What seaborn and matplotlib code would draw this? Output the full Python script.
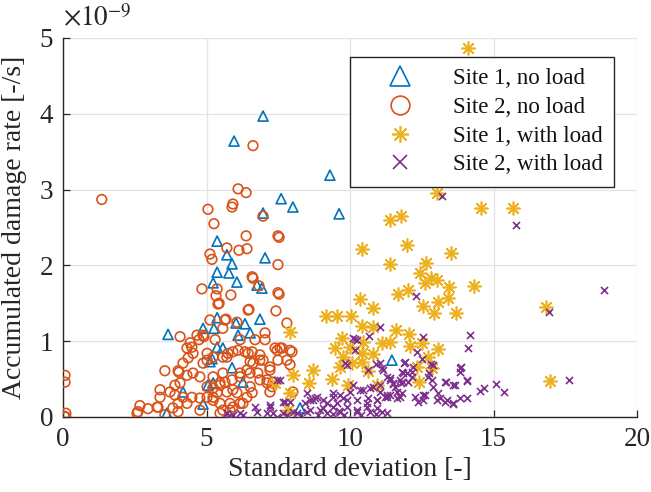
import numpy as np
import pandas as pd
import matplotlib
matplotlib.use("Agg")
import matplotlib.pyplot as plt
import seaborn as sns
from matplotlib.lines import Line2D

# ---------------- data (y in units of 1e-9 1/s) ----------------
series_labels = ["Site 1, no load", "Site 2, no load", "Site 1, with load", "Site 2, with load"]
series_colors = ["#0072BD", "#D95319", "#EDB120", "#7E2F8E"]

s1_noload_x = [6.97, 5.96, 9.30, 7.60, 8.01, 9.62, 6.97, 5.37, 5.71, 5.89, 5.37, 5.78, 6.06, 5.23,
               7.04, 6.76, 6.93, 3.66, 4.88, 5.26, 5.37, 6.03, 6.34, 6.10, 6.52, 6.86, 5.37, 5.57,
               5.19, 5.12, 5.89, 6.27, 5.05, 5.23, 4.18, 3.62, 8.26, 11.46, 4.88]
s1_noload_y = [3.97, 3.64, 3.19, 2.88, 2.77, 2.68, 2.69, 2.32, 2.14, 2.02, 1.91, 1.90, 1.78, 1.77,
               2.10, 1.74, 1.70, 1.09, 1.17, 1.17, 1.31, 1.24, 1.23, 1.08, 1.11, 1.29, 0.92, 0.91,
               0.77, 0.73, 0.65, 0.46, 0.42, 0.45, 0.33, 0.05, 0.12, 0.75, 0.17]

s2_noload_x = [1.35, 0.07, 0.07, 0.10, 0.10, 0.04, 6.62, 6.10, 6.38, 5.92, 5.89, 5.05, 6.97, 5.26,
               6.38, 7.53, 5.71, 6.13, 6.41, 5.12, 5.19, 7.49, 6.62, 6.83, 4.84, 5.37, 5.33, 5.85,
               7.53, 5.44, 6.48, 7.42, 5.68, 7.80, 4.08, 4.67, 4.88, 4.43, 4.32, 4.53, 4.36, 4.18,
               3.55, 4.01, 4.88, 6.10, 6.45, 6.86, 6.52, 7.04, 7.04, 7.56, 7.98, 7.21, 7.39, 7.11,
               7.28, 6.27, 5.92, 5.57, 3.38, 3.38, 3.31, 3.83, 3.55, 4.49, 5.02, 5.23, 5.57, 5.75,
               5.92, 6.34, 6.59, 7.63, 7.91, 7.49, 6.86, 6.62, 6.41, 6.17, 5.89, 5.64, 5.47, 5.23,
               5.02, 4.77, 4.53, 4.32, 4.04, 4.08, 3.90, 3.73, 3.90, 4.18, 4.49, 4.77, 5.02, 5.23,
               5.37, 5.71, 5.92, 6.59, 7.21, 7.32, 8.01, 7.80, 3.28, 2.96, 2.68, 2.61, 2.58, 4.01,
               4.32, 4.01, 4.77, 7.49, 6.45, 6.59, 7.49, 5.40, 6.06, 5.64, 5.57, 5.12, 4.91, 4.74,
               5.30, 6.17, 6.69,
               5.02, 5.71, 6.97, 7.21, 7.46, 7.91, 7.11, 6.86, 6.52, 6.41, 6.06, 5.47, 5.82, 6.17,
               5.47, 5.23, 5.23, 5.57, 5.82, 5.47, 6.79, 6.52, 6.17]
s2_noload_y = [2.87, 0.55, 0.46, 0.05, 0.00, 0.01, 3.58, 3.01, 2.96, 2.81, 2.77, 2.74, 2.65, 2.55,
               2.39, 2.37, 2.23, 2.20, 2.22, 2.15, 2.08, 2.01, 1.83, 1.73, 1.69, 1.69, 1.60, 1.61,
               1.62, 1.50, 1.42, 1.40, 1.29, 1.24, 1.06, 1.08, 1.08, 0.98, 0.91, 0.84, 0.78, 0.71,
               0.61, 0.61, 0.71, 0.88, 0.84, 0.82, 0.73, 1.11, 1.02, 0.91, 0.86, 0.66, 0.91, 0.49,
               0.40, 0.18, 0.13, 0.09, 0.36, 0.26, 0.13, 0.12, 0.03, 0.92, 0.84, 0.79, 0.79, 0.84,
               0.86, 0.86, 0.86, 0.91, 0.69, 0.75, 0.75, 0.71, 0.62, 0.58, 0.49, 0.46, 0.42, 0.38,
               0.40, 0.53, 0.58, 0.55, 0.59, 0.45, 0.42, 0.33, 0.29, 0.26, 0.26, 0.25, 0.26, 0.22,
               0.32, 0.33, 0.36, 0.32, 0.33, 0.46, 0.33, 0.75, 0.13, 0.11, 0.15, 0.07, 0.05, 0.18,
               0.18, 0.07, 0.09, 1.64, 1.41, 1.85, 2.39, 1.49, 1.25, 1.28, 1.17, 1.28, 1.06, 1.02,
               1.02, 1.02, 1.02,
               0.75, 0.79, 0.75, 0.62, 0.88, 0.88, 0.45, 0.49, 0.40, 0.26, 0.32, 0.18, 0.18, 0.18,
               0.45, 0.26, 0.53, 0.58, 0.09, 0.05, 0.58, 0.58, 0.53]

s1_load_x = [14.11, 13.03, 14.56, 15.68, 11.78, 11.39, 10.42, 11.99, 13.52, 11.39, 12.65, 12.44,
             12.82, 13.03, 12.61, 13.45, 14.32, 12.02, 11.67, 10.35, 10.80, 13.41, 13.07, 12.54,
             12.93, 13.69, 16.83, 9.55, 10.03, 9.16, 10.42, 10.80, 11.60, 12.06, 9.72, 10.45,
             11.11, 11.39, 12.09, 12.51, 13.07, 9.48, 10.42, 10.80, 9.76, 12.72, 10.07, 9.65,
             10.63, 12.33, 12.86, 9.37, 9.93, 10.94, 12.40, 16.97, 10.00, 10.42, 8.71, 8.57,
             8.01, 7.91, 7.84, 7.91, 7.40]
s1_load_y = [4.87, 2.96, 2.76, 2.76, 2.65, 2.60, 2.22, 2.27, 2.16, 2.02, 2.03, 1.90,
             1.83, 1.81, 1.77, 1.72, 1.73, 1.68, 1.62, 1.56, 1.44, 1.57, 1.52, 1.46,
             1.37, 1.37, 1.45, 1.33, 1.33, 1.33, 1.20, 1.19, 1.15, 1.09, 1.04, 0.99,
             0.98, 0.99, 0.94, 0.98, 0.90, 0.91, 0.84, 0.83, 0.79, 0.79, 0.71, 0.66,
             0.61, 0.66, 0.65, 0.50, 0.42, 0.42, 0.46, 0.47, 0.92, 0.73, 0.62, 0.45,
             0.55, 1.12, 0.09, 0.32, 0.45]

s2_load_x = [13.20, 15.78, 18.85, 16.93, 17.63, 12.30, 11.04, 12.54, 14.18, 14.11, 10.17, 10.66,
             12.33, 12.51, 11.88, 10.91, 11.15, 12.82, 12.75, 13.87, 13.83, 11.85, 12.16, 11.39,
             12.02, 11.78, 11.50, 13.34, 13.66, 14.08, 15.09, 15.37, 14.67, 14.53, 12.89, 13.07,
             12.61, 12.37, 13.03, 13.31, 13.59, 13.83, 14.08, 11.81, 11.64, 11.39, 11.22, 11.05,
             11.05, 10.24, 10.17, 11.92, 11.81, 12.16, 12.72, 11.39, 11.85, 12.86, 13.31, 13.59,
             14.08, 13.83, 12.89, 11.57, 11.64, 11.29, 11.05, 10.70, 10.35, 10.00, 9.65, 9.41,
             9.06, 8.85, 8.61, 8.43, 9.90, 10.24, 10.63, 10.94, 9.41, 9.90, 10.24, 10.59, 10.94,
             8.95, 8.61, 7.91, 7.67, 9.20, 12.54, 13.38, 13.59, 12.26, 12.54, 13.14, 7.56, 6.69,
             7.21, 6.17, 5.71, 8.50, 8.71, 9.41, 9.76, 10.10, 9.83, 10.10, 9.06, 7.32, 8.15, 7.11,
             7.80, 8.30, 8.90, 9.40, 9.80, 10.40, 10.90, 11.30, 10.70, 9.60, 8.50,
             7.46, 7.73, 7.21, 6.76, 6.27, 5.92, 5.75, 8.78, 9.55, 10.45, 10.80, 11.29, 11.50,
             11.74, 11.99, 12.20, 10.59, 10.94, 11.29, 11.74, 11.11, 10.24, 9.65, 9.20, 8.01,
             7.67, 7.46, 9.90, 10.63, 11.11]
s2_load_y = [2.92, 2.53, 1.68, 1.39, 0.49, 1.60, 1.19, 1.06, 1.08, 0.91, 1.03, 1.07,
             0.86, 0.77, 0.71, 0.70, 0.62, 0.70, 0.58, 0.66, 0.59, 0.58, 0.53, 0.51,
             0.46, 0.45, 0.44, 0.46, 0.42, 0.47, 0.44, 0.33, 0.38, 0.34, 0.40, 0.32,
             0.29, 0.20, 0.22, 0.20, 0.17, 0.25, 0.25, 0.32, 0.25, 0.29, 0.26, 0.33,
             0.71, 1.02, 0.88, 0.73, 0.59, 0.59, 0.53, 0.49, 0.46, 0.49, 0.46, 0.42,
             0.49, 0.65, 0.69, 0.40, 0.33, 0.29, 0.42, 0.38, 0.36, 0.33, 0.29, 0.26,
             0.22, 0.26, 0.22, 0.18, 0.22, 0.22, 0.25, 0.22, 0.13, 0.13, 0.09, 0.13, 0.12,
             0.09, 0.09, 0.20, 0.20, 0.18, 0.22, 0.22, 0.18, 0.26, 0.29, 0.25, 0.49, 0.13,
             0.13, 0.05, 0.05, 0.32, 0.22, 0.32, 0.25, 0.42, 0.71, 1.04, 0.12, 0.05, 0.05, 0.05,
             0.02, 0.03, 0.02, 0.04, 0.03, 0.03, 0.04, 0.05, 0.07, 0.08, 0.06,
             0.49, 0.20, 0.16, 0.07, 0.03, 0.03, 0.00, 0.25, 0.18, 0.36, 0.40, 0.53, 0.45,
             0.49, 0.58, 0.66, 0.18, 0.22, 0.26, 0.26, 0.07, 0.07, 0.07, 0.05, 0.07,
             0.05, 0.00, 0.69, 0.62, 0.65]

x_ticks = [0, 5, 10, 15, 20]
y_ticks = [0, 1, 2, 3, 4, 5]
x_label = "Standard deviation [-]"
y_label = "Accumulated damage rate [-/s]"
exponent_label = r"$\times 10^{-9}$"

# ---------------- style ----------------
sns.set_theme(style="white")
plt.rcParams['font.family'] = ['Liberation Serif', 'DejaVu Serif']
plt.rcParams['mathtext.fontset'] = 'stix'

fig = plt.figure(figsize=(6.51, 4.92), dpi=100)
ax = fig.add_axes([63 / 651, 75 / 492, 574 / 651, 379 / 492])

asterisk = (8, 2, 0)
specs = [
    (s1_noload_x, s1_noload_y, "^", 52, True, 1.2),
    (s2_noload_x, s2_noload_y, "o", 48, True, 1.2),
    (s1_load_x, s1_load_y, asterisk, 85, False, 1.2),
    (s2_load_x, s2_load_y, "x", 26, False, 1.2),
]
for (xs, ys, mk, sz, hollow, lw), col in zip(specs, series_colors):
    df = pd.DataFrame({"x": xs, "y": ys})
    if hollow:
        sns.scatterplot(data=df, x="x", y="y", marker=mk, s=sz, color=col,
                        facecolor="none", edgecolor=col, linewidth=lw, ax=ax,
                        legend=False, zorder=3)
    else:
        sns.scatterplot(data=df, x="x", y="y", marker=mk, s=sz, color=col,
                        linewidth=lw, ax=ax, legend=False, zorder=3)

ax.set_xlim(0, 20)
ax.set_ylim(0, 5)
ax.set_xticks(x_ticks)
ax.set_yticks(y_ticks)
ax.set_xticklabels([str(t) for t in x_ticks])
ax.set_yticklabels([str(t) for t in y_ticks])
ax.grid(True, color="#e3e3e3", linewidth=0.9)
ax.set_axisbelow(True)
for side in ["top", "right"]:
    ax.spines[side].set_visible(False)
for side in ["left", "bottom"]:
    ax.spines[side].set_color("#262626")
    ax.spines[side].set_linewidth(1.0)
ax.tick_params(axis="both", direction="in", length=5, width=0.9, color="#262626",
               labelsize=19.5, labelcolor="#262626", pad=7,
               bottom=True, left=True, top=False, right=False)
ax.set_xlabel(x_label, fontsize=20, color="#262626", labelpad=4)
ax.set_ylabel(y_label, fontsize=20, color="#262626", labelpad=9)
ax.text(0.0, 1.015, exponent_label, transform=ax.transAxes, ha="left", va="bottom",
        fontsize=19.5, color="#262626")

handles = [
    Line2D([], [], linestyle="none", marker="^", markersize=15, markerfacecolor="none",
           markeredgecolor=series_colors[0], markeredgewidth=1.2),
    Line2D([], [], linestyle="none", marker="o", markersize=13.5, markerfacecolor="none",
           markeredgecolor=series_colors[1], markeredgewidth=1.2),
    Line2D([], [], linestyle="none", marker=asterisk, markersize=12, color=series_colors[2],
           markeredgewidth=1.2),
    Line2D([], [], linestyle="none", marker="x", markersize=9.5, color=series_colors[3],
           markeredgewidth=1.2),
]
leg = ax.legend(handles, series_labels, loc="upper right", bbox_to_anchor=(0.96, 0.95),
                fontsize=16.5, frameon=True, fancybox=False, framealpha=1,
                edgecolor="#262626", borderpad=0.5, handlelength=3.38, handletextpad=0.6,
                labelspacing=0.33, borderaxespad=0)
leg.get_frame().set_linewidth(1.0)
for t in leg.get_texts():
    t.set_color("#111111")

fig.savefig("out.png", dpi=100)
